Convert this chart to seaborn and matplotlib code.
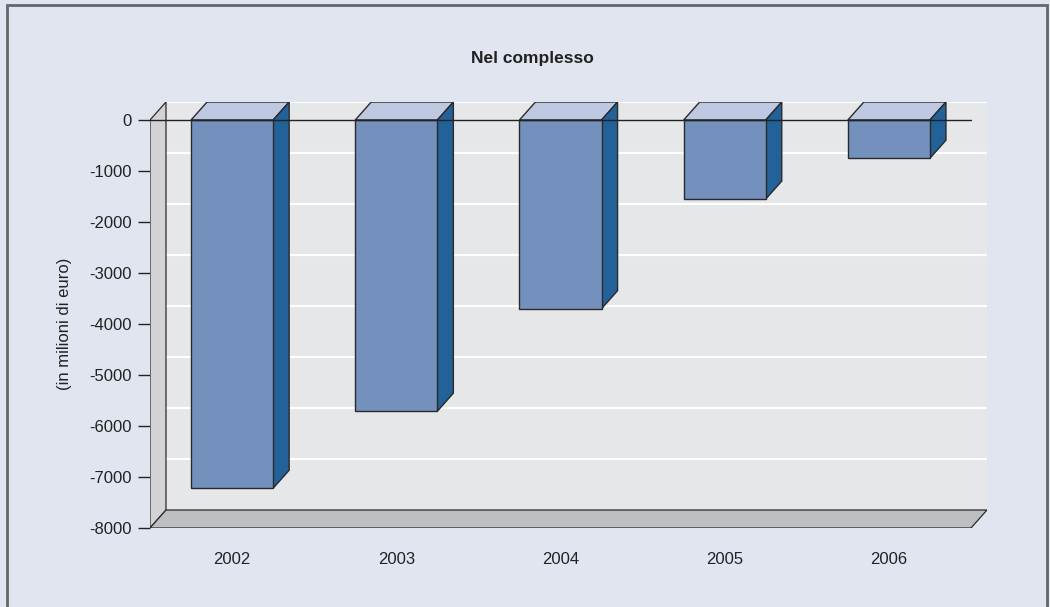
import matplotlib
matplotlib.use("Agg")
import matplotlib.pyplot as plt
from matplotlib.patches import Polygon, Rectangle
import seaborn as sns
import pandas as pd

# Balance per year, in millions of euro
years = ["2002", "2003", "2004", "2005", "2006"]
values = [-7220, -5710, -3700, -1550, -750]
y_ticks = [0, -1000, -2000, -3000, -4000, -5000, -6000, -7000, -8000]
title = "Nel complesso"
y_label = "(in milioni di euro)"

BG = "#E1E5F0"
WALL = "#E6E7E9"
SIDE_WALL = "#D3D3D5"
FLOOR = "#BEBFC3"
FRONT = "#7391BC"
TOP = "#BEC9E1"
SIDE = "#236199"
EDGE = "#2A2A2A"

sns.set_theme(style="white")
plt.rcParams["font.family"] = ["Liberation Sans", "DejaVu Sans"]

W, H = 1050, 607
fig = plt.figure(figsize=(W / 100, H / 100), dpi=100, facecolor=BG)

# axes spans the front plane plus the depth of the 3-D box (pixel layout)
x0_px, x1_px, top_px, bot_px = 150, 987, 102, 528
ax = fig.add_axes([x0_px / W, (H - bot_px) / H, (x1_px - x0_px) / W, (bot_px - top_px) / H])
ax.set_facecolor("none")

ymin, ymax0 = -8000, 0
px_per_unit_y = (528 - 120) / (ymax0 - ymin)
cat_px = (971 - 150) / len(years)
dx = 16 / cat_px                    # depth offset along x (data units)
dy = 18 / px_per_unit_y             # depth offset along y (data units)
xl, xr = -0.5, -0.5 + len(years)    # front plane extent

ax.set_xlim(xl, xl + (x1_px - x0_px) / cat_px)
ax.set_ylim(ymin, dy)

# back wall with white gridlines
ax.add_patch(Rectangle((xl + dx, ymin + dy), xr - xl, ymax0 - ymin,
                       facecolor=WALL, edgecolor="none", zorder=0))
for t in y_ticks[:-1]:
    ax.plot([xl + dx, xr + dx], [t + dy, t + dy], color="white", lw=1.5, zorder=0.5)

# left wall and floor
ax.add_patch(Polygon([(xl, ymin), (xl, ymax0), (xl + dx, ymax0 + dy), (xl + dx, ymin + dy)],
                     closed=True, facecolor=SIDE_WALL, edgecolor=EDGE, lw=0.9, zorder=1))
ax.add_patch(Polygon([(xl, ymin), (xr, ymin), (xr + dx, ymin + dy), (xl + dx, ymin + dy)],
                     closed=True, facecolor=FLOOR, edgecolor=EDGE, lw=0.9, zorder=1))

# front faces of the bars
df = pd.DataFrame({"year": years, "value": values})
sns.barplot(data=df, x="year", y="value", width=0.5, color=FRONT, saturation=1,
            edgecolor=EDGE, linewidth=1, ax=ax, zorder=3)

# top and side faces built from each bar's own geometry
for bar in ax.patches:
    if bar.get_facecolor()[:3] == matplotlib.colors.to_rgb(FRONT):
        bx0 = bar.get_x()
        bx1 = bx0 + bar.get_width()
        v = bar.get_y() + bar.get_height() if bar.get_height() < 0 else bar.get_y()
        v = min(bar.get_y(), bar.get_y() + bar.get_height())
        ax.add_patch(Polygon([(bx0, 0), (bx1, 0), (bx1 + dx, dy), (bx0 + dx, dy)],
                             closed=True, facecolor=TOP, edgecolor=EDGE, lw=1, zorder=2.5))
        ax.add_patch(Polygon([(bx1, 0), (bx1 + dx, dy), (bx1 + dx, v + dy), (bx1, v)],
                             closed=True, facecolor=SIDE, edgecolor=EDGE, lw=1, zorder=2.5))

# zero line across the front plane
ax.plot([xl, xr], [0, 0], color="#222222", lw=1, zorder=5)

ax.set_xlim(xl, xl + (x1_px - x0_px) / cat_px)
ax.set_ylim(ymin, dy)

for s in ax.spines.values():
    s.set_visible(False)

ax.set_yticks(y_ticks)
ax.set_yticklabels([str(t) for t in y_ticks], fontsize=12, color="#222222")
ax.set_yticks(range(-8000, 1, 200), minor=True)
ax.tick_params(axis="y", which="major", direction="out", length=9, width=1,
               color="#222222", pad=4, left=True)
ax.tick_params(axis="y", which="minor", direction="in", length=2, width=0.6,
               color="#444444", left=True)
ax.set_xticks(range(len(years)))
ax.set_xticklabels(years, fontsize=12, color="#222222")
ax.tick_params(axis="x", length=0, pad=17)
ax.set_xlabel("")
ax.set_ylabel(y_label, fontsize=12, color="#222222")
ax.yaxis.set_label_coords((72 - x0_px) / (x1_px - x0_px), (bot_px - 324) / (bot_px - top_px))

fig.text(532 / W, 1 - 59 / H, title, ha="center", va="center",
         fontsize=12.5, fontweight="bold", color="#222222")

# outer frame
fig.patches.append(Rectangle((7 / W, -0.05), (1047 - 7) / W, (H - 5) / H + 0.05,
                             transform=fig.transFigure, fill=False,
                             edgecolor="#666666", lw=2, figure=fig))

fig.savefig("out.png", dpi=100, facecolor=BG)
